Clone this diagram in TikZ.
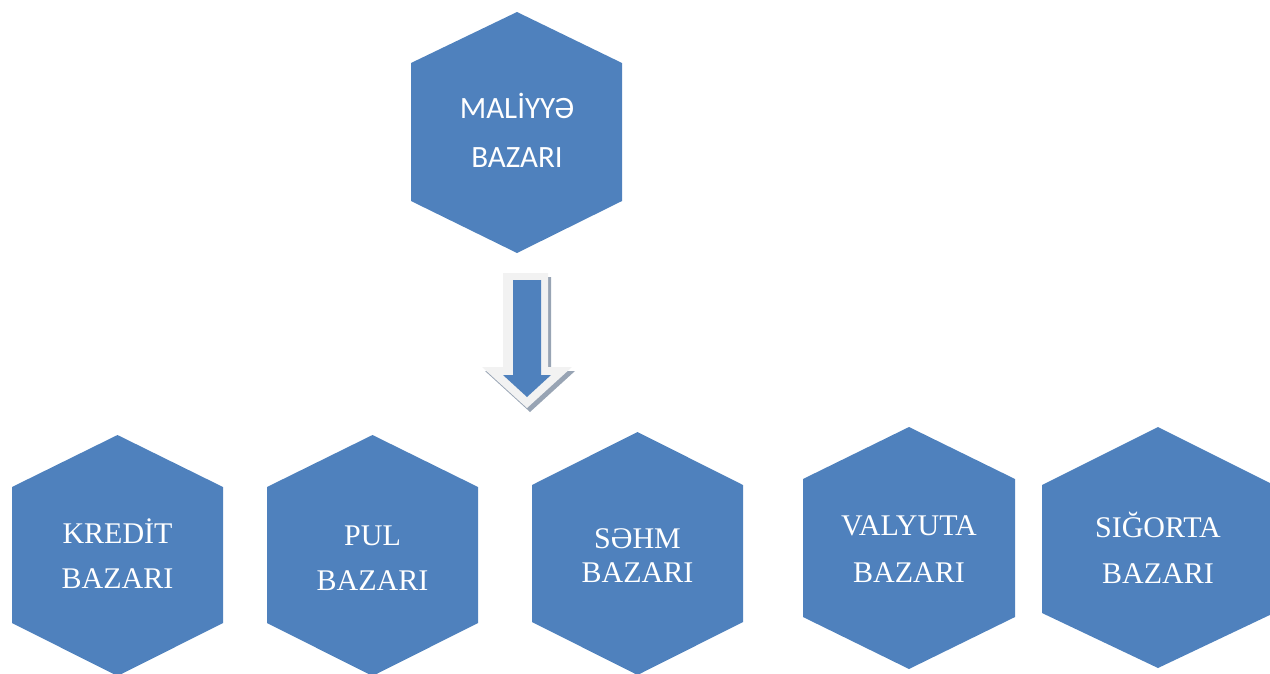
\documentclass[tikz,border=0pt]{standalone}
\usepackage{fontspec}
\setmainfont{Liberation Serif}
\newfontfamily\calibri{Carlito}
\definecolor{hexblue}{HTML}{4F81BD}
\definecolor{arrowlight}{HTML}{F2F2F2}
\definecolor{arrowshadow}{HTML}{98A4B4}
\begin{document}
\begin{tikzpicture}[x=1pt,y=-1pt,
  hexfill/.style={fill=hexblue},
  toptext/.style={text=white,anchor=base,inner sep=0pt,font=\calibri\fontsize{31}{36}\selectfont},
  bottext/.style={text=white,anchor=base,inner sep=0pt,font=\fontsize{30}{36}\selectfont}]
\useasboundingbox (0,0) rectangle (1270,673);
% top hexagon
\fill[hexfill] (411,63) -- (517,12) -- (622,63) -- (622,201) -- (517,253) -- (411,201) -- cycle;
\node[toptext] (t1) at (517,118) {MALİYYƏ};
\node[toptext] (t2) at (517,167) {BAZARI};
% arrow
\coordinate (as) at (527,273);
\fill[arrowshadow] (506,277) -- (551,277) -- (551,371) -- (575,371) -- (530,412) -- (485,371) -- (506,371) -- cycle;
\fill[arrowlight] (503,273) -- (548,273) -- (548,367) -- (572,367) -- (527,408) -- (482,367) -- (503,367) -- cycle;
\fill[hexblue] (513,280) -- (541,280) -- (541,375) -- (551,375) -- (527,397) -- (503,375) -- (513,375) -- cycle;
% bottom hexagons
\fill[hexfill] (12,487) -- (117.5,435) -- (223,487) -- (223,623) -- (117.5,676) -- (12,623) -- cycle;
\node[bottext] (k1) at (117.5,543) {KREDİT};
\node[bottext] (k2) at (117.5,588) {BAZARI};
\fill[hexfill] (267,487) -- (372.5,435) -- (478,487) -- (478,623) -- (372.5,676) -- (267,623) -- cycle;
\node[bottext] (p1) at (372.5,545) {PUL};
\node[bottext] (p2) at (372.5,590) {BAZARI};
\fill[hexfill] (532,485) -- (637.5,432) -- (743,485) -- (743,622) -- (637.5,675) -- (532,622) -- cycle;
\node[bottext] (s1) at (637.5,548) {SƏHM};
\node[bottext] (s2) at (637.5,582) {BAZARI};
\fill[hexfill] (803,479) -- (909,427) -- (1015,479) -- (1015,617) -- (909,669) -- (803,617) -- cycle;
\node[bottext] (v1) at (909,535) {VALYUTA};
\node[bottext] (v2) at (909,582) {BAZARI};
\fill[hexfill] (1042,485) -- (1158,427) -- (1274,485) -- (1274,613) -- (1158,668) -- (1042,613) -- cycle;
\node[bottext] (g1) at (1158,537) {SIĞORTA};
\node[bottext] (g2) at (1158,583) {BAZARI};
\end{tikzpicture}
\end{document}
